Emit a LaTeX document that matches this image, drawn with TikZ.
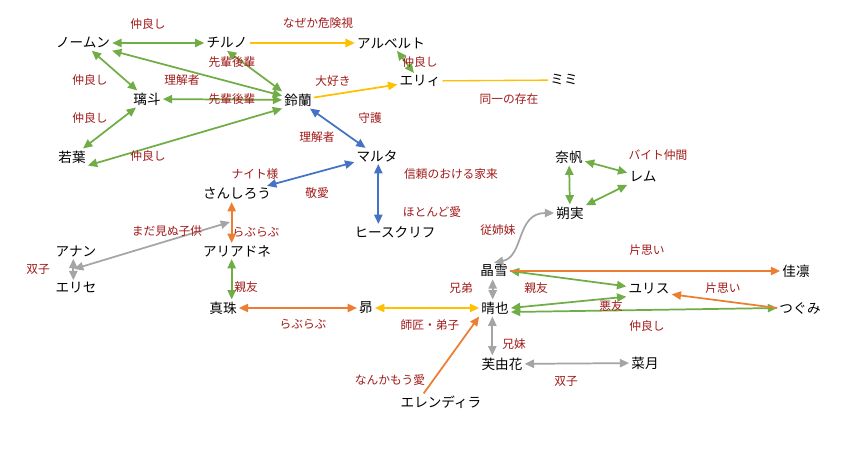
\documentclass[tikz,border=0pt]{standalone}
\usepackage{fontspec}
\setmainfont{Noto Sans CJK JP}
\usepackage{tikz}
\usetikzlibrary{arrows.meta}
\definecolor{cgreen}{HTML}{70AD47}
\definecolor{corange}{HTML}{ED7D31}
\definecolor{cyellow}{HTML}{FFC000}
\definecolor{cblue}{HTML}{4472C4}
\definecolor{cgray}{HTML}{A5A5A5}
\definecolor{cred}{HTML}{A31A1A}
\tikzset{
  chara/.style ={inner sep=1.5pt,font=\fontsize{10.2}{12}\selectfont},
  rel/.style   ={inner sep=1pt,text=cred,font=\fontsize{8.8}{10}\selectfont},
  lk/.style    ={line width=1.3pt},
}

\begin{document}
\begin{tikzpicture}[
  x=0.75pt, y=-0.75pt,
  >={Triangle[length=7pt,width=6.2pt]},
  gn/.style ={lk,draw=cgreen},
  og/.style ={lk,draw=corange},
  yl/.style ={lk,draw=cyellow},
  bl/.style ={lk,draw=cblue},
  gy/.style ={lk,draw=cgray},
]
\path[use as bounding box,fill=white] (0,0) rectangle (867,449);
%% characters
\node[chara] (nomun)    at ( 83, 43) {ノームン};
\node[chara] (chiruno)  at (227, 43) {チルノ};
\node[chara] (albert)   at (391, 43) {アルベルト};
\node[chara] (rito)     at (147, 99) {璃斗};
\node[chara] (suzuran)  at (298,100) {鈴蘭};
\node[chara] (eri)      at (420, 81) {エリィ};
\node[chara] (mimi)     at (564, 80) {ミミ};
\node[chara] (wakaba)   at ( 72,157) {若葉};
\node[chara] (maruta)   at (377,156) {マルタ};
\node[chara] (naho)     at (569,157) {奈帆};
\node[chara] (remu)     at (643,177) {レム};
\node[chara] (sanshiro) at (237,194) {さんしろう};
\node[chara] (sakumi)   at (570,213) {朔実};
\node[chara] (heath)    at (395,232) {ヒースクリフ};
\node[chara] (anan)     at ( 76,251) {アナン};
\node[chara] (ariadne)  at (237,251) {アリアドネ};
\node[chara] (erise)    at ( 76,288) {エリセ};
\node[chara] (akiyuki)  at (494,271) {晶雪};
\node[chara] (karin)    at (796,271) {佳凛};
\node[chara] (yurisu)   at (649,289) {ユリス};
\node[chara] (shinju)   at (223,308) {真珠};
\node[chara] (subaru)   at (366,308) {昴};
\node[chara] (haruya)   at (495,308) {晴也};
\node[chara] (tsugumi)  at (800,308) {つぐみ};
\node[chara] (fuyuka)   at (502,364) {芙由花};
\node[chara] (natsuki)  at (645,363) {菜月};
\node[chara] (erendira) at (441,402) {エレンディラ};
\coordinate (twinmid) at ( 74,269);
\coordinate (unborn)  at (230,222);
%% green: friends
\draw[gn,<->] (nomun) -- (chiruno);
\draw[gn,<->] (nomun) -- (suzuran);
\draw[gn,<->] (nomun) -- (rito);
\draw[gn,<->] (chiruno.south) -- (suzuran.north west);
\draw[gn,<->] (rito) -- (suzuran);
\draw[gn,<->] (rito) -- (wakaba);
\draw[gn,<->] (wakaba.south east) -- (suzuran.south west);
\draw[gn,<->] (albert) -- (eri);
\draw[gn,<->] (naho) -- (remu);
\draw[gn,<->] (naho) -- (sakumi);
\draw[gn,<->] (sakumi) -- (remu);
\draw[gn,<->] ([xshift=-4pt]ariadne.south) -- ([xshift=-4pt]ariadne.south |- shinju.north);
\draw[gn,<->] (akiyuki.east) -- ([yshift=2pt]yurisu.west);
\draw[gn,<->] (haruya.east) -- (yurisu.south west);
\draw[gn,<->] ([yshift=-3pt]haruya.east) -- (tsugumi.west);
%% yellow
\draw[yl,->]  (chiruno) -- (albert);
\draw[yl,->]  (suzuran) -- (eri);
\draw[yl,line width=1pt] (eri) -- (mimi);
\draw[yl,<->] (subaru) -- (haruya);
%% blue
\draw[bl,<->] (suzuran) -- (maruta);
\draw[bl,<->] (sanshiro) -- (maruta);
\draw[bl,<->] ([xshift=1pt]maruta.south) -- ([xshift=1pt]maruta.south |- heath.north);
%% orange
\draw[og,<->] ([xshift=-4pt]sanshiro.south) -- ([xshift=-4pt]ariadne.north);
\draw[og,<->] (shinju) -- (subaru);
\draw[og,->]  (akiyuki) -- (karin);
\draw[og,->]  (tsugumi.west) -- ([yshift=-4pt]yurisu.east);
\draw[og,->]  ([xshift=-13pt]erendira.north) -- (haruya.south west);
%% gray: family
\draw[gy,<->] ([xshift=-2pt]anan.south) -- ([xshift=-2pt]erise.north);
\draw[gy,<->] (twinmid) -- (unborn);
\draw[gy,<->] (akiyuki.north) .. controls +(30,-6) and +(-38,0) .. (sakumi.west);
\draw[gy,<->] ([xshift=-1pt]akiyuki.south) -- ([xshift=-1pt]akiyuki.south |- haruya.north);
\draw[gy,<->] ([xshift=-2pt]haruya.south) -- ([xshift=-2pt]haruya.south |- fuyuka.north);
\draw[gy,<->] (fuyuka) -- (natsuki);
%% relation labels
\node[rel] (lnc)     at (148, 24) {仲良し};
\node[rel] (ldanger) at (318, 23) {なぜか危険視};
\node[rel] (lsen1)   at (232, 62) {先輩後輩};
\node[rel] (lnr)     at ( 90, 80) {仲良し};
\node[rel] (lrikai1) at (182, 80) {理解者};
\node[rel] (lsen2)   at (232, 99) {先輩後輩};
\node[rel] (ldaisuki) at (333, 81) {大好き};
\node[rel] (lae)     at (420, 62) {仲良し};
\node[rel] (lsame)   at (509, 99) {同一の存在};
\node[rel] (lrw)     at ( 90,118) {仲良し};
\node[rel] (lshugo)  at (370,118) {守護};
\node[rel] (lrikai2) at (317,137) {理解者};
\node[rel] (lws)     at (148,156) {仲良し};
\node[rel] (lbaito)  at (658,155) {バイト仲間};
\node[rel] (lknight) at (255,174) {ナイト様};
\node[rel] (lkeiai)  at (317,193) {敬愛};
\node[rel] (lkerai)  at (451,174) {信頼のおける家来};
\node[rel] (lai)     at (432,212) {ほとんど愛};
\node[rel] (litoko)  at (498,230) {従姉妹};
\node[rel] (lchild)  at (167,231) {まだ見ぬ子供};
\node[rel] (llove1)  at (256,232) {らぶらぶ};
\node[rel] (ltwin1)  at ( 38,269) {双子};
\node[rel] (lkata1)  at (647,250) {片思い};
\node[rel] (lshin1)  at (246,287) {親友};
\node[rel] (lshin2)  at (536,288) {親友};
\node[rel] (lkyodai) at (461,288) {兄弟};
\node[rel] (lkata2)  at (723,288) {片思い};
\node[rel] (lakuyu)  at (611,306) {悪友};
\node[rel] (llove2)  at (303,324) {らぶらぶ};
\node[rel] (lshisho) at (430,325) {師匠・弟子};
\node[rel] (lkyomai) at (514,344) {兄妹};
\node[rel] (lnh)     at (647,326) {仲良し};
\node[rel] (lmouai)  at (390,380) {なんかもう愛};
\node[rel] (ltwin2)  at (566,381) {双子};
\end{tikzpicture}
\end{document}
